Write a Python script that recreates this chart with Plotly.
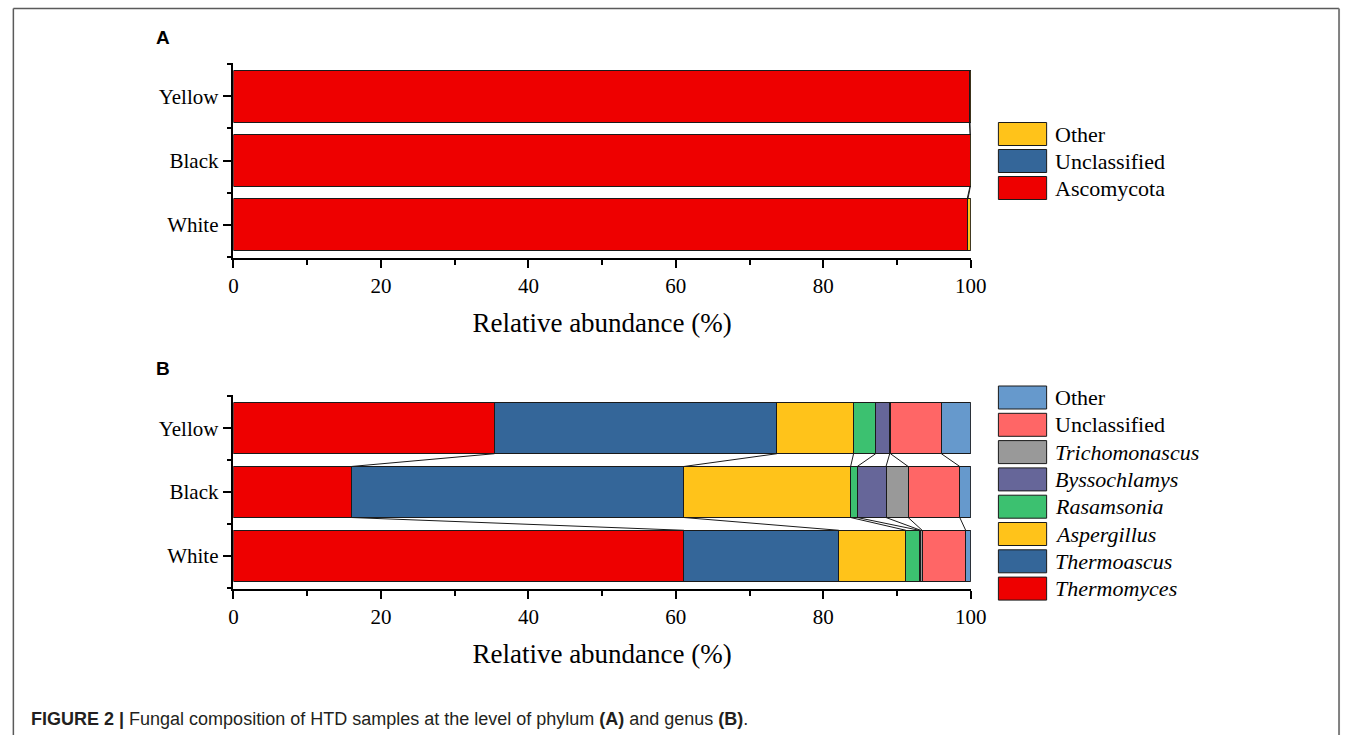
import plotly.graph_objects as go
import numpy as np

W, H = 1358, 735

samples = ["White", "Black", "Yellow"]
sample_pos = [0, 1, 2]

# Panel A: phylum level (% relative abundance)
phyla = ["Ascomycota", "Unclassified", "Other"]
phylum_values = {
    "Ascomycota":   [99.5, 99.9, 99.8],
    "Unclassified": [0.1, 0.05, 0.1],
    "Other":        [0.4, 0.05, 0.1],
}
phylum_colors = {"Ascomycota": "#EE0000", "Unclassified": "#346699", "Other": "#FFC31A"}

# Panel B: genus level (% relative abundance)
genera = ["Thermomyces", "Thermoascus", "Aspergillus", "Rasamsonia",
          "Byssochlamys", "Trichomonascus", "Unclassified", "Other"]
genus_values = {
    "Thermomyces":    [61.1, 16.0, 35.4],
    "Thermoascus":    [21.0, 45.1, 38.3],
    "Aspergillus":    [9.1, 22.6, 10.4],
    "Rasamsonia":     [1.8, 0.9, 3.0],
    "Byssochlamys":   [0.2, 3.9, 1.9],
    "Trichomonascus": [0.2, 3.0, 0.1],
    "Unclassified":   [5.9, 7.0, 6.9],
    "Other":          [0.7, 1.5, 4.0],
}
genus_colors = {
    "Thermomyces": "#EE0000", "Thermoascus": "#346699", "Aspergillus": "#FFC31A",
    "Rasamsonia": "#3CC170", "Byssochlamys": "#666699", "Trichomonascus": "#999999",
    "Unclassified": "#FF6666", "Other": "#6699CC",
}
italic_names = {"Thermomyces", "Thermoascus", "Aspergillus", "Rasamsonia",
                "Byssochlamys", "Trichomonascus"}

x_ticks = [0, 20, 40, 60, 80, 100]
BAR_W = 0.8

def px_x(p):
    return p / W

def px_y(p):
    return 1 - p / H

fig = go.Figure()

def add_panel(names, values, colors, xa, ya):
    for n in names:
        fig.add_trace(go.Bar(
            x=values[n], y=sample_pos, orientation="h", width=BAR_W,
            marker=dict(color=colors[n], line=dict(color="#1a1a1a", width=1)),
            xaxis=xa, yaxis=ya, showlegend=False, name=n,
        ))
    # connector lines between cumulative boundaries of neighbouring bars
    cum = np.cumsum(np.array([values[n] for n in names]), axis=0)
    for k in range(cum.shape[0] - 1):
        for i in range(len(sample_pos) - 1):
            fig.add_trace(go.Scatter(
                x=[cum[k, i], cum[k, i + 1]],
                y=[sample_pos[i] + BAR_W / 2, sample_pos[i + 1] - BAR_W / 2],
                mode="lines", line=dict(color="#1a1a1a", width=1),
                xaxis=xa, yaxis=ya, showlegend=False, hoverinfo="skip",
            ))

add_panel(phyla, phylum_values, phylum_colors, "x", "y")
add_panel(genera, genus_values, genus_colors, "x2", "y2")

tick_font = dict(family="Liberation Serif, Times New Roman, serif", size=21, color="black")
title_font = dict(family="Liberation Serif, Times New Roman, serif", size=27, color="black")

xdom = [px_x(232), px_x(981)]

def xaxis_cfg(anchor):
    return dict(
        domain=xdom, range=[0, 100], anchor=anchor,
        tickmode="array", tickvals=x_ticks, ticks="outside", ticklen=8, tickwidth=1.5,
        tickcolor="black", showline=True, linecolor="black", linewidth=1.5,
        showgrid=False, zeroline=False, tickfont=tick_font,
        minor=dict(tickvals=[10, 30, 50, 70, 90], ticks="outside", ticklen=5,
                   tickwidth=1.5, tickcolor="black"),
        title=dict(text="Relative abundance (%)", font=title_font, standoff=16),
        fixedrange=True,
    )

def yaxis_cfg(anchor, top_px, bot_px):
    return dict(
        domain=[px_y(bot_px), px_y(top_px)], range=[-0.52, 2.52], anchor=anchor,
        tickmode="array", tickvals=sample_pos, ticktext=samples,
        ticks="outside", ticklen=9, tickwidth=1.5, tickcolor="black",
        showline=True, linecolor="black", linewidth=1.5,
        showgrid=False, zeroline=False, tickfont=tick_font,
        minor=dict(tickvals=[-0.5, 0.5, 1.5, 2.5], ticks="outside", ticklen=5,
                   tickwidth=1.5, tickcolor="black"),
        fixedrange=True,
    )

fig.update_layout(
    width=W, height=H, autosize=False,
    margin=dict(l=0, r=0, t=0, b=0),
    paper_bgcolor="white", plot_bgcolor="white",
    barmode="stack", bargap=0.2,
    xaxis=xaxis_cfg("y"), yaxis=yaxis_cfg("x", 63, 258),
    xaxis2=xaxis_cfg("y2"), yaxis2=yaxis_cfg("x2", 395, 589),
)

shapes = []
annotations = []

# legend swatches and labels
def add_legend(names, colors, y_centers):
    for n, yc in zip(names, y_centers):
        shapes.append(dict(
            type="rect", xref="paper", yref="paper",
            x0=px_x(1009), x1=px_x(1058), y0=px_y(yc + 11.5), y1=px_y(yc - 11.5),
            fillcolor=colors[n], line=dict(color="#1a1a1a", width=1),
        ))
        label = f"<i>{n}</i>" if n in italic_names else n
        annotations.append(dict(
            xref="paper", yref="paper", x=px_x(1064), y=px_y(yc),
            text=label, showarrow=False, xanchor="left", yanchor="middle",
            font=dict(family="Liberation Serif, Times New Roman, serif", size=22, color="black"),
        ))

add_legend(list(reversed(phyla)), phylum_colors, [134, 161, 188])
add_legend(list(reversed(genera)), genus_colors,
           [397.5 + 27.3 * i for i in range(len(genera))])

# panel letters
for letter, yc in [("A", 38), ("B", 368)]:
    annotations.append(dict(
        xref="paper", yref="paper", x=px_x(160), y=px_y(yc), text=f"<b>{letter}</b>",
        showarrow=False, xanchor="center", yanchor="middle",
        font=dict(family="Liberation Sans, Arial, sans-serif", size=19, color="black"),
    ))

# caption
annotations.append(dict(
    xref="paper", yref="paper", x=px_x(24), y=px_y(719), xanchor="left", yanchor="middle",
    showarrow=False,
    text="<b>FIGURE 2 |</b> Fungal composition of HTD samples at the level of phylum "
         "<b>(A)</b> and genus <b>(B)</b>.",
    font=dict(family="Liberation Sans, Arial, sans-serif", size=18, color="#231f20"),
))

# outer frame (open at the bottom)
frame_col = "#5a5a5a"
shapes += [
    dict(type="line", xref="paper", yref="paper", x0=px_x(8.5), x1=px_x(1355),
         y0=px_y(8.5), y1=px_y(8.5), line=dict(color=frame_col, width=1.5)),
    dict(type="line", xref="paper", yref="paper", x0=px_x(8.5), x1=px_x(8.5),
         y0=px_y(8.5), y1=0, line=dict(color=frame_col, width=1.5)),
    dict(type="line", xref="paper", yref="paper", x0=px_x(1355), x1=px_x(1355),
         y0=px_y(8.5), y1=0, line=dict(color="#808080", width=2)),
]

fig.update_layout(shapes=shapes, annotations=annotations)

# page without body margin or scrollbars, so the figure sits at the window origin
page_css = (
    "document.documentElement.style.overflow='hidden';"
    "document.body.style.overflow='hidden';"
    "document.body.style.margin='0';"
)
fig.write_html("out.html", config={"responsive": False, "displayModeBar": False},
               post_script=page_css)
